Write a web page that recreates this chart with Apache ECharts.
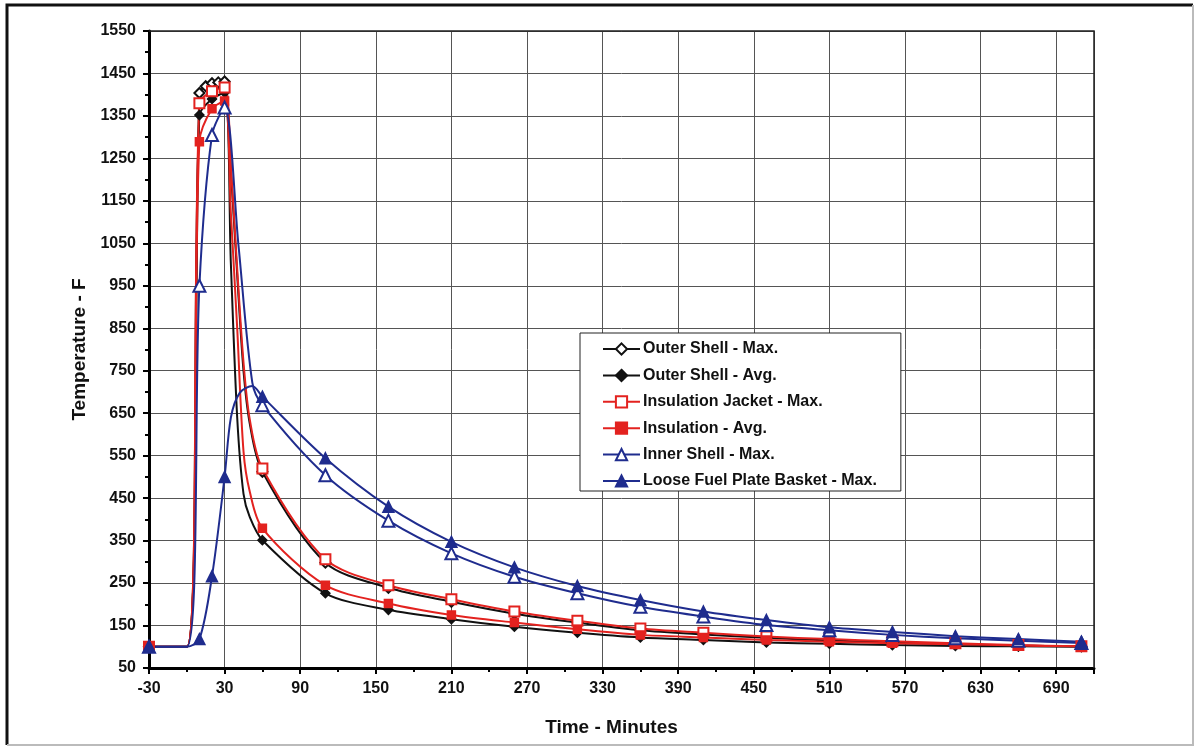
<!DOCTYPE html>
<html>
<head>
<meta charset="utf-8">
<title>Temperature - Time</title>
<script src="https://cdn.jsdelivr.net/npm/echarts@6/dist/echarts.min.js"></script>
<style>
  html,
  body,
  #main {
    margin: 0;
    padding: 0;
    width: 1197px;
    height: 748px;
    overflow: hidden;
    background: #fff;
  }
</style>
</head>
<body>
<div id="main"></div>
<script>
// times (minutes) and temperatures (F)
const outerShellMaxTime = [-30, 0, 10, 15, 20, 25, 30, 35, 40, 45, 50, 60, 110, 160, 210, 260, 310, 360, 410, 460, 510, 560, 610, 660, 710];
const outerShellMaxTemp = [100, 100, 1404, 1420, 1427, 1429, 1431, 1220, 975, 750, 625, 512, 298, 239, 206, 178, 157, 139, 129, 121, 115, 110, 106, 103, 101];

const outerShellAvgTime = [-30, 0, 10, 20, 30, 35, 40, 45, 50, 60, 110, 160, 210, 260, 310, 360, 410, 460, 510, 560, 610, 660, 710];
const outerShellAvgTemp = [100, 100, 1352, 1390, 1405, 1000, 640, 460, 405, 351, 226, 187, 165, 147, 133, 122, 116, 110, 107, 104, 102, 101, 100];

const jacketMaxTime = [-30, 0, 10, 20, 30, 35, 40, 45, 50, 60, 110, 160, 210, 260, 310, 360, 410, 460, 510, 560, 610, 660, 710];
const jacketMaxTemp = [100, 100, 1380, 1408, 1417, 1230, 990, 770, 635, 520, 306, 245, 212, 183, 161, 143, 133, 124, 118, 113, 108, 104, 101];

const insulationAvgTime = [-30, 0, 10, 20, 30, 35, 40, 45, 50, 60, 110, 160, 210, 260, 310, 360, 410, 460, 510, 560, 610, 660, 710];
const insulationAvgTemp = [100, 100, 1289, 1367, 1385, 1120, 850, 560, 465, 379, 245, 202, 175, 157, 141, 128, 122, 116, 112, 108, 106, 103, 101];

const innerShellMaxTime = [-30, 0, 10, 20, 30, 41, 52, 60, 110, 160, 210, 260, 310, 360, 410, 460, 510, 560, 610, 660, 710];
const innerShellMaxTemp = [100, 100, 950, 1305, 1370, 1046, 722, 669, 504, 397, 320, 265, 226, 194, 171, 151, 139, 128, 120, 114, 109];

const basketMaxTime = [-30, 0, 10, 20, 30, 35, 42, 52, 60, 110, 160, 210, 260, 310, 360, 410, 460, 510, 560, 610, 660, 710];
const basketMaxTemp = [100, 100, 118, 266, 500, 640, 698, 714, 689, 544, 430, 347, 287, 243, 210, 183, 163, 146, 135, 125, 118, 112];

// points on the curves that carry no marker
const hiddenMarkerTimes = [0, 35, 40, 41, 42, 45, 50, 52];

const seriesNames = [
  "Outer Shell - Max.",
  "Outer Shell - Avg.",
  "Insulation Jacket - Max.",
  "Insulation - Avg.",
  "Inner Shell - Max.",
  "Loose Fuel Plate Basket - Max.",
];

const FONT = "'Liberation Sans', Arial, sans-serif";
const RED = "#e3221f";
const BLUE = "#1f2c8e";

function toData(times, temps) {
  return times.map((t, i) => {
    if (hiddenMarkerTimes.indexOf(t) >= 0) {
      return { value: [t, temps[i]], symbol: "none" };
    }
    return [t, temps[i]];
  });
}

function makeSeries(name, times, temps, color, symbol, size) {
  return {
    name: name,
    type: "line",
    smooth: 0.3,
    data: toData(times, temps),
    symbol: symbol,
    symbolSize: size,
    showAllSymbol: true,
    lineStyle: { color: color, width: 2 },
    itemStyle: { color: color, borderColor: color, borderWidth: 1.5 },
    emphasis: { disabled: true },
    animation: false,
    z: 3,
  };
}

const myChart = echarts.init(document.getElementById("main"));

const option = {
  backgroundColor: "#fff",
  animation: false,
  grid: {
    left: 149,
    right: 103,
    top: 31,
    bottom: 80,
  },
  legend: {
    data: seriesNames,
    orient: "vertical",
    left: 580,
    top: 333,
    padding: [8, 24, 2, 22],
    itemGap: 10.4,
    itemWidth: 37,
    itemHeight: 14,
    backgroundColor: "#fff",
    borderColor: "#222",
    borderWidth: 1,
    textStyle: {
      color: "#111",
      fontFamily: FONT,
      fontWeight: "bold",
      fontSize: 16,
      padding: [0, 0, 0, -2],
    },
  },
  xAxis: {
    type: "value",
    min: -30,
    max: 720,
    interval: 60,
    name: "Time - Minutes",
    nameLocation: "middle",
    nameGap: 50,
    nameTextStyle: {
      color: "#111",
      fontFamily: FONT,
      fontWeight: "bold",
      fontSize: 19,
      padding: [0, 20, 0, 0],
    },
    axisLine: { show: true, onZero: false, lineStyle: { color: "#000", width: 3 } },
    axisTick: { show: true, length: 6, lineStyle: { color: "#000", width: 2 } },
    minorTick: { show: true, splitNumber: 2, length: 4, lineStyle: { color: "#000", width: 2 } },
    axisLabel: {
      showMaxLabel: false,
      margin: 13,
      color: "#111",
      fontFamily: FONT,
      fontWeight: "bold",
      fontSize: 16,
      formatter: (v) => String(v),
    },
    splitLine: { show: true, lineStyle: { color: "#555", width: 1 } },
  },
  yAxis: {
    type: "value",
    min: 50,
    max: 1550,
    interval: 100,
    name: "Temperature - F",
    nameLocation: "middle",
    nameGap: 58,
    nameTextStyle: { color: "#111", fontFamily: FONT, fontWeight: "bold", fontSize: 19 },
    axisLine: { show: true, onZero: false, lineStyle: { color: "#000", width: 3 } },
    axisTick: { show: true, length: 6, lineStyle: { color: "#000", width: 2 } },
    minorTick: { show: true, splitNumber: 2, length: 4, lineStyle: { color: "#000", width: 2 } },
    axisLabel: {
      margin: 13,
      color: "#111",
      fontFamily: FONT,
      fontWeight: "bold",
      fontSize: 16,
      formatter: (v) => String(v),
    },
    splitLine: { show: true, lineStyle: { color: "#555", width: 1 } },
  },
  graphic: [
    // outer frame of the figure
    {
      type: "polyline",
      shape: { points: [[7, 745], [7, 5], [1193, 5]] },
      style: { stroke: "#111", lineWidth: 3, fill: null },
    },
    {
      type: "polyline",
      shape: { points: [[1193, 5], [1193, 745], [7, 745]] },
      style: { stroke: "#bbb", lineWidth: 2, fill: null },
    },
    // plot box right/top edge
    {
      type: "polyline",
      shape: { points: [[149, 31], [1094, 31], [1094, 668]] },
      style: { stroke: "#222", lineWidth: 1.5, fill: null },
      z: 2,
    },
  ],
  series: [
    makeSeries(seriesNames[0], outerShellMaxTime, outerShellMaxTemp, "#111", "emptyDiamond", 10),
    makeSeries(seriesNames[1], outerShellAvgTime, outerShellAvgTemp, "#111", "diamond", 9),
    makeSeries(seriesNames[2], jacketMaxTime, jacketMaxTemp, RED, "emptyRect", 10),
    makeSeries(seriesNames[3], insulationAvgTime, insulationAvgTemp, RED, "rect", 8),
    makeSeries(seriesNames[4], innerShellMaxTime, innerShellMaxTemp, BLUE, "emptyTriangle", 12),
    makeSeries(seriesNames[5], basketMaxTime, basketMaxTemp, BLUE, "triangle", 11),
  ],
};

myChart.setOption(option);
window.onresize = myChart.resize;
</script>
</body>
</html>
